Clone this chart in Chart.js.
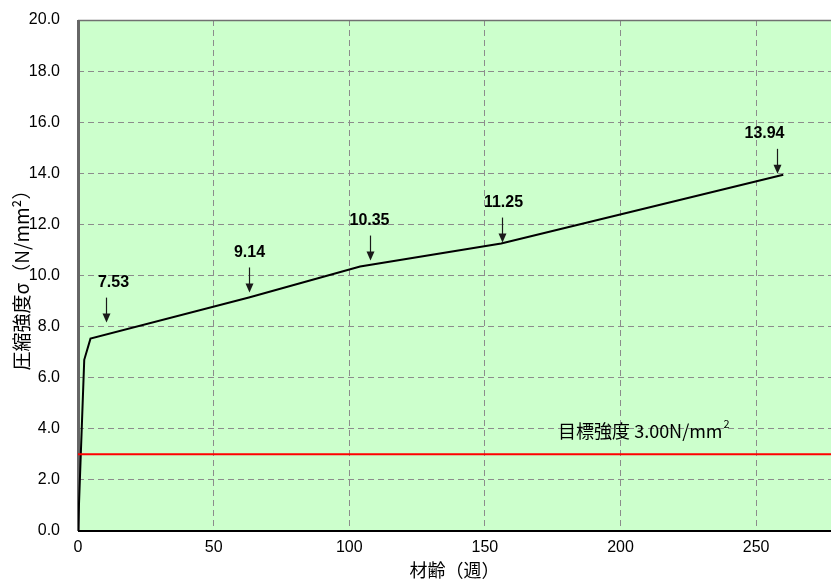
<!DOCTYPE html>
<html>
<head>
<meta charset="utf-8">
<script src="https://cdn.jsdelivr.net/npm/chart.js@4.4.0/dist/chart.umd.min.js"></script>
<style>
  html, body { margin: 0; padding: 0; background: #fff; }
</style>
</head>
<body>
<canvas id="chart1" width="831" height="581"></canvas>
<script>
// data
const weeks = [0, 2.3, 4.6, 63, 104, 156, 260];
const strength = [0, 6.7, 7.53, 9.14, 10.35, 11.25, 13.94];
const labelIdx = [2, 3, 4, 5, 6];
const target = 3.00;
const xMax = 277.6;

// label / arrow placement tweaks (pixels)
const arrowDx = [16, 0, 10, 1, -6];
const arrowGap = [16, 5, 6, 1, 1];
const textDx = [7, 0, -1, 1, -13];

const bgPlugin = {
  id: 'bg',
  beforeDraw(chart) {
    const {ctx, chartArea: a} = chart;
    ctx.save();
    ctx.fillStyle = '#CCFFCC';
    ctx.fillRect(a.left, a.top, a.right - a.left, a.bottom - a.top);
    ctx.restore();
  },
  beforeDatasetsDraw(chart) {
    const {ctx, chartArea: a} = chart;
    ctx.save();
    ctx.strokeStyle = '#707070';
    ctx.lineWidth = 1.5;
    ctx.beginPath();
    ctx.moveTo(a.left, a.top + 0.5);
    ctx.lineTo(a.right, a.top + 0.5);
    ctx.stroke();
    ctx.lineWidth = 3;
    ctx.strokeStyle = '#666';
    ctx.beginPath();
    ctx.moveTo(a.left + 0.5, a.top);
    ctx.lineTo(a.left + 0.5, a.bottom);
    ctx.stroke();
    ctx.lineWidth = 2;
    ctx.strokeStyle = '#000';
    ctx.beginPath();
    ctx.moveTo(a.left, a.bottom);
    ctx.lineTo(a.right, a.bottom);
    ctx.stroke();
    ctx.restore();
  }
};

const arrowPlugin = {
  id: 'arrows',
  afterDatasetsDraw(chart) {
    const ctx = chart.ctx;
    const pts = chart.getDatasetMeta(1).data;
    const xs = chart.scales.x, ys = chart.scales.y;
    ctx.save();
    labelIdx.forEach((idx, k) => {
      const p = pts[idx];
      const ax = Math.round(p.x + arrowDx[k]) + 0.5;
      const tip = p.y - arrowGap[k];
      const top = tip - 25;
      ctx.strokeStyle = '#1a1a1a';
      ctx.fillStyle = '#1a1a1a';
      ctx.lineWidth = 1.2;
      ctx.beginPath();
      ctx.moveTo(ax, top);
      ctx.lineTo(ax, tip - 6);
      ctx.stroke();
      ctx.beginPath();
      ctx.moveTo(ax - 4, tip - 9);
      ctx.lineTo(ax + 4, tip - 9);
      ctx.lineTo(ax, tip);
      ctx.closePath();
      ctx.fill();
      ctx.fillStyle = '#000';
      ctx.font = 'bold 16px "Liberation Sans", Arial, sans-serif';
      ctx.textAlign = 'center';
      ctx.textBaseline = 'middle';
      ctx.fillText(strength[idx].toFixed(2), ax + textDx[k], top - 15);
    });

    // target label
    const tx = xs.getPixelForValue(177);
    const ty = ys.getPixelForValue(target) - 23;
    ctx.textAlign = 'left';
    ctx.textBaseline = 'middle';
    ctx.font = '18px "Noto Sans CJK JP", sans-serif';
    const main = '目標強度 ' + target.toFixed(2) + 'N/mm';
    ctx.fillText(main, tx, ty);
    const w = ctx.measureText(main).width;
    ctx.font = '11px "Noto Sans CJK JP", sans-serif';
    ctx.fillText('2', tx + w + 1, ty - 8);
    ctx.restore();
  }
};

const data = {
  datasets: [{
    label: 'target',
    data: [{x: 0, y: target}, {x: xMax, y: target}],
    borderColor: '#FF0000',
    borderWidth: 2,
    pointRadius: 0,
    tension: 0
  }, {
    label: 'strength',
    data: strength.map((v, i) => ({x: weeks[i], y: v})),
    borderColor: '#000000',
    borderWidth: 2,
    pointRadius: 0,
    tension: 0
  }]
};

const config = {
  type: 'line',
  data: data,
  options: {
    responsive: false,
    animation: false,
    layout: { padding: { top: 20, right: 0, left: 0, bottom: 0 } },
    plugins: {
      legend: { display: false },
      tooltip: { enabled: false }
    },
    scales: {
      x: {
        type: 'linear',
        min: 0,
        max: xMax,
        afterFit(scale) { scale.height = 50; scale.paddingLeft = 0; scale.paddingRight = 0; },
        ticks: {
          stepSize: 50,
          includeBounds: false,
          padding: 7,
          color: '#000',
          font: { family: '"Liberation Sans", Arial, sans-serif', size: 16 },
          maxRotation: 0
        },
        grid: { color: '#8c8c8c', lineWidth: 1, drawTicks: false },
        border: { display: false, dash: [6, 4] },
        title: {
          display: true,
          text: '材齢（週）',
          color: '#000',
          font: { family: '"Noto Sans CJK JP", sans-serif', size: 18 },
          padding: { top: 0, bottom: 0 }
        }
      },
      y: {
        min: 0,
        max: 20,
        afterFit(scale) { scale.width = 78; scale.paddingTop = 0; scale.paddingBottom = 0; },
        ticks: {
          stepSize: 2,
          padding: 18,
          color: '#000',
          font: { family: '"Liberation Sans", Arial, sans-serif', size: 16 },
          callback: (v) => v.toFixed(1)
        },
        grid: { color: '#8c8c8c', lineWidth: 1, drawTicks: false },
        border: { display: false, dash: [6, 4] },
        title: {
          display: true,
          text: '圧縮強度σ（N/mm²）',
          color: '#000',
          font: { family: '"Noto Sans CJK JP", sans-serif', size: 19 },
          padding: { top: 10, bottom: 0 }
        }
      }
    }
  },
  plugins: [bgPlugin, arrowPlugin]
};

var myChart = new Chart(
  document.getElementById('chart1'),
  config
);
</script>
</body>
</html>
